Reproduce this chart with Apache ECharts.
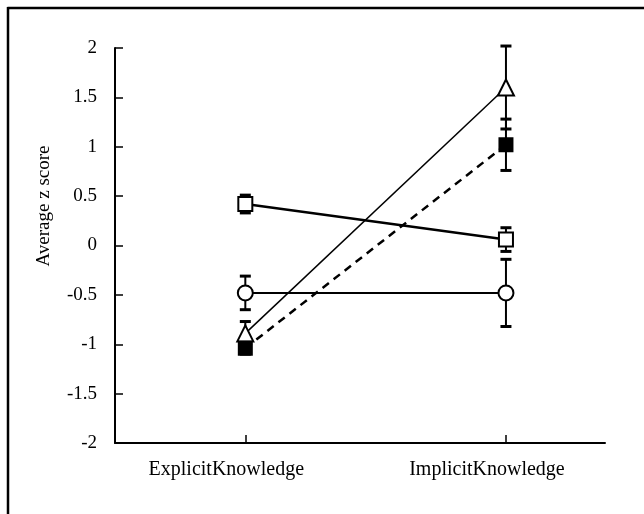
<!DOCTYPE html>
<html><head><meta charset="utf-8">
<script src="https://cdn.jsdelivr.net/npm/echarts@6/dist/echarts.min.js"></script>
<style>html,body{margin:0;padding:0;background:#fff}#c{width:644px;height:514px}</style>
</head><body><div id="c"></div>
<script>
var categories = ['ExplicitKnowledge', 'ImplicitKnowledge'];
var categoryPos = [1, 3];
var yTicks = [-2, -1.5, -1, -0.5, 0, 0.5, 1, 1.5, 2];
var openSquareMean = [0.42, 0.06];
var openSquareErr = [0.09, 0.12];
var circleMean = [-0.48, -0.48];
var circleErr = [0.17, 0.34];
var triangleMean = [-0.89, 1.6];
var triangleErr = [0.12, 0.42];
var filledSquareMean = [-1.04, 1.02];
var filledSquareErr = [0.06, 0.26];

var FONT = 'Liberation Serif';
function pts(mean){ return mean.map(function(v,i){ return [categoryPos[i], v]; }); }
function errData(mean, err){ return mean.map(function(v,i){ return [categoryPos[i], v-err[i], v+err[i]]; }); }
function errSeries(mean, err, z){
  return {
    type:'custom', z:z, silent:true,
    data: errData(mean, err),
    renderItem: function(params, api){
      var x = api.value(0);
      var lo = api.coord([x, api.value(1)]);
      var hi = api.coord([x, api.value(2)]);
      var hw = 5.5;
      var st = {stroke:'#000', lineWidth:2};
      return {type:'group', children:[
        {type:'line', shape:{x1:lo[0],y1:lo[1],x2:hi[0],y2:hi[1]}, style:st},
        {type:'line', shape:{x1:lo[0]-hw,y1:lo[1],x2:lo[0]+hw,y2:lo[1]}, style:{stroke:'#000', lineWidth:3}},
        {type:'line', shape:{x1:hi[0]-hw,y1:hi[1],x2:hi[0]+hw,y2:hi[1]}, style:{stroke:'#000', lineWidth:3}}
      ]};
    }
  };
}
function lineSeries(mean, symbol, size, fill, lw, dash, z){
  return {
    type:'line', z:z, data: pts(mean), symbol:symbol, symbolSize:size, showSymbol:true,
    lineStyle:{color:'#000', width:lw, type: dash ? [8,6] : 'solid'},
    itemStyle:{color:fill, borderColor:'#000', borderWidth:2},
    emphasis:{disabled:true}, animation:false
  };
}

var chart = echarts.init(document.getElementById('c'), null, {renderer:'canvas'});
chart.setOption({
  animation:false,
  backgroundColor:'#fff',
  grid:{left:115, right:39, top:48, bottom:71, containLabel:false},
  xAxis:{
    type:'value', min:0, max:3.76,
    splitLine:{show:false},
    axisLine:{show:true, onZero:false, lineStyle:{color:'#000', width:2}},
    axisTick:{show:true, inside:true, length:8, customValues:categoryPos, lineStyle:{color:'#000', width:1.5}},
    axisLabel:{show:true, customValues:categoryPos, margin:17, color:'#000', fontFamily:FONT, fontSize:20,
      padding:[0,38,0,0],
      formatter:function(v){ var i = categoryPos.indexOf(v); return i>=0 ? categories[i] : ''; }}
  },
  yAxis:{
    type:'value', min:-2, max:2, interval:0.5,
    splitLine:{show:false},
    axisLine:{show:true, onZero:false, lineStyle:{color:'#000', width:2}},
    axisTick:{show:true, inside:true, length:8, lineStyle:{color:'#000', width:1.5}},
    axisLabel:{margin:18, color:'#000', fontFamily:FONT, fontSize:19,
      formatter:function(v){ return String(v); }}
  },
  graphic:[
    {type:'line', shape:{x1:7.5,y1:8,x2:644,y2:8}, style:{stroke:'#000', lineWidth:2.5}},
    {type:'line', shape:{x1:8,y1:7,x2:8,y2:514}, style:{stroke:'#000', lineWidth:2.5}},
    {type:'text', x:44, y:206, rotation:Math.PI/2, style:{text:'Average z score', fill:'#000', font:'19px "Liberation Serif"', align:'center', verticalAlign:'middle'}}
  ],
  series:[
    errSeries(openSquareMean, openSquareErr, 2),
    errSeries(circleMean, circleErr, 2),
    errSeries(triangleMean, triangleErr, 2),
    errSeries(filledSquareMean, filledSquareErr, 2),
    lineSeries(openSquareMean, 'rect', 14, '#fff', 2.5, false, 3),
    lineSeries(circleMean, 'circle', 15, '#fff', 2, false, 3),
    lineSeries(triangleMean, 'triangle', 16, '#fff', 1.5, false, 3),
    lineSeries(filledSquareMean, 'rect', 13, '#000', 2.5, true, 4)
  ]
});
</script></body></html>
